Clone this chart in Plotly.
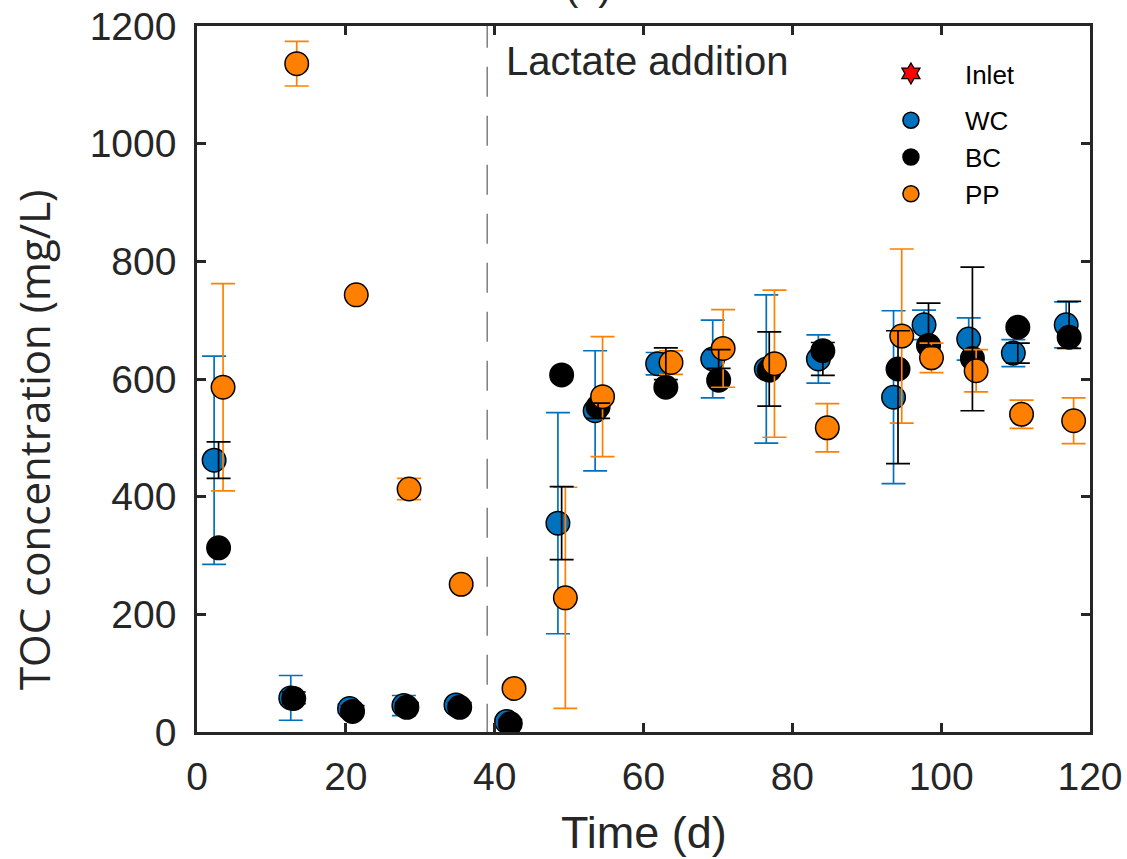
import plotly.graph_objects as go

# ---- data ----
wc_x = [2.3, 12.6, 20.5, 27.8, 34.8, 41.6, 48.5, 53.5, 61.9, 69.3, 76.5, 83.5, 93.6, 97.7, 103.7, 109.7, 116.8]
wc_y = [462, 58, 40, 45, 46, 18, 355, 546, 626, 634, 617, 634, 569, 692, 668, 644, 692]
wc_err = [177, 38, 7, 17, 7, 4, 188, 102, 19, 66, 126, 41, 147, 25, 36, 23, 39]

bc_x = [2.9, 13.0, 20.9, 28.2, 35.3, 42.1, 49.0, 53.9, 63.0, 70.1, 76.9, 84.1, 94.2, 98.3, 104.2, 110.3, 117.2]
bc_y = [313, 57, 35, 42, 42, 14, 607, 553, 586, 598, 615, 648, 617, 657, 635, 688, 671]
bc_err = [31, 10, 5, 5, 4, 3, 62, 13, 27, 16, 63, 28, 113, 37, 122, 17, 40]

pp_x = [3.5, 13.4, 21.4, 28.5, 35.5, 42.6, 49.5, 54.5, 63.7, 70.7, 77.6, 84.7, 94.7, 98.7, 104.7, 110.8, 117.8]
pp_y = [586, 1136, 743, 413, 251, 74, 228, 570, 628, 652, 626, 517, 673, 636, 614, 540, 529]
pp_err = [176, 38, 2, 18, 3, 3, 188, 102, 20, 66, 125, 41, 148, 25, 36, 24, 39]

inlet_x = [None]
inlet_y = [None]

lactate_day = 39
x_ticks = [0, 20, 40, 60, 80, 100, 120]
y_ticks = [0, 200, 400, 600, 800, 1000, 1200]

BLUE = "#0072BD"
ORANGE = "#FF8000"
TXT = "#262626"
FONT = "Liberation Sans, Arial, sans-serif"

fig = go.Figure()

fig.add_trace(go.Scatter(
    x=inlet_x, y=inlet_y, mode="markers", name="Inlet", legendgroup="a",
    marker=dict(symbol="hexagram", size=16, color="red", line=dict(color="black", width=1.2)),
))

def err(vals, color):
    return dict(type="data", array=vals, visible=True, color=color, thickness=1.7, width=12)

fig.add_trace(go.Scatter(
    x=wc_x, y=wc_y, mode="markers", name="WC", legendgroup="b",
    marker=dict(size=23.5, color=BLUE, line=dict(color="black", width=1.5)),
    error_y=err(wc_err, BLUE),
))
fig.add_trace(go.Scatter(
    x=bc_x, y=bc_y, mode="markers", name="BC", legendgroup="b",
    marker=dict(size=23.5, color="black", line=dict(color="black", width=1.5)),
))
fig.add_trace(go.Scatter(
    x=pp_x, y=pp_y, mode="markers", name="PP", legendgroup="b",
    marker=dict(size=23.5, color=ORANGE, line=dict(color="black", width=1.5)),
    error_y=err(pp_err, ORANGE),
))
# BC error bars (drawn around the WC means, as in the original figure)
fig.add_trace(go.Scatter(
    x=bc_x, y=wc_y, mode="markers", showlegend=False, hoverinfo="skip",
    marker=dict(size=1, color="rgba(0,0,0,0)"),
    error_y=err(bc_err, "black"),
))

fig.add_shape(type="line", xref="x", yref="y", x0=lactate_day, x1=lactate_day,
              y0=1214, y1=0, line=dict(color="#7F7F7F", width=1.5, dash="30px,19px"), layer="below")

fig.add_annotation(text="Lactate addition", xref="paper", yref="paper", x=0.3438, y=0.951,
                   xanchor="left", yanchor="middle", showarrow=False,
                   font=dict(family=FONT, size=40, color=TXT))
fig.add_annotation(text="(c)", xref="paper", yref="paper", x=0.4384, y=1.057,
                   xanchor="center", yanchor="middle", showarrow=False,
                   font=dict(family=FONT, size=40, color=TXT))
fig.add_annotation(text="TOC concentration (mg/L)", xref="paper", yref="paper", x=-0.1825, y=0.4136,
                   xanchor="center", yanchor="middle", textangle=-90, showarrow=False,
                   font=dict(family="Open Sans, sans-serif", size=42, color=TXT))
fig.add_annotation(text="Time (d)", xref="paper", yref="paper", x=0.5, y=-0.143,
                   xanchor="center", yanchor="middle", showarrow=False,
                   font=dict(family=FONT, size=45, color=TXT))

axis_common = dict(showgrid=False, zeroline=False, showline=True, linecolor=TXT, linewidth=2.5,
                   mirror="ticks", ticks="inside", ticklen=9, tickwidth=2.5, tickcolor=TXT,
                   tickfont=dict(family=FONT, size=39, color=TXT))

fig.update_xaxes(range=[0, 120], tickvals=x_ticks, ticklabelstandoff=8, automargin=False, **axis_common)
fig.update_yaxes(range=[0, 1200], tickvals=y_ticks, ticklabelstandoff=10, automargin=False, **axis_common)

fig.update_layout(
    width=1127, height=859, autosize=False,
    margin=dict(l=197, r=37, t=26, b=127, autoexpand=False),
    plot_bgcolor="white", paper_bgcolor="white",
    showlegend=True,
    legend=dict(x=0.739, y=0.966, xanchor="left", yanchor="top", bgcolor="rgba(0,0,0,0)",
                font=dict(family=FONT, size=26, color="black"), itemwidth=98,
                tracegroupgap=10, traceorder="grouped"),
)

fig.write_html("out.html", config={"displayModeBar": False},
               post_script="document.body.style.margin='0';")
